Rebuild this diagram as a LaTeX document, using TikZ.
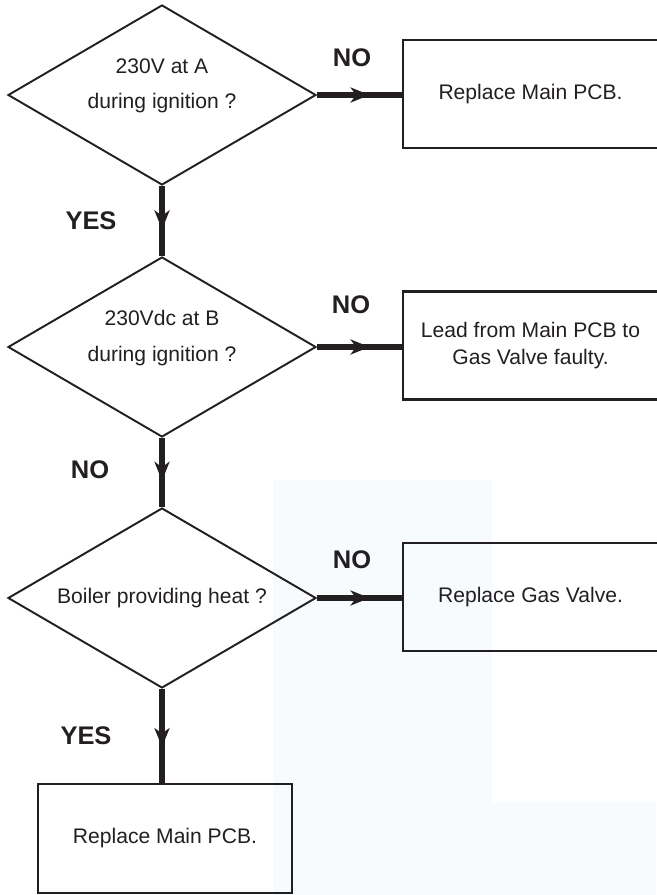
\documentclass[tikz,border=0pt]{standalone}
\usepackage{fontspec}
\setmainfont{Liberation Sans}
\usetikzlibrary{shapes.geometric,arrows.meta,decorations.markings}
\definecolor{ink}{HTML}{231F20}
\definecolor{faintblue}{HTML}{F7FBFE}
\tikzset{
  question/.style={diamond, draw=ink, line width=1.1pt, minimum width=6.16cm,
                   minimum height=3.6cm, aspect=1.71, inner sep=0pt},
  qtext/.style={align=center, text=ink, font=\fontsize{12}{20}\selectfont},
  action/.style={draw=ink, line width=1.4pt, minimum width=5.1cm, minimum height=2.16cm,
                 align=center, text=ink, font=\fontsize{12}{15.5}\selectfont},
  answer/.style={text=ink, font=\fontsize{14.5}{17}\selectfont\bfseries},
  flow/.style={draw=ink, line width=3pt, postaction={decorate},
               decoration={markings, mark=at position 0.62 with
                 {\arrow[ink]{Stealth[length=3.8mm, width=3mm, inset=1.1mm]}}}},
}

\begin{document}
\begin{tikzpicture}
    \useasboundingbox (0,0) rectangle (13.12,-17.9);
    % faint background
    \fill[faintblue] (5.46,-9.6) rectangle (9.84,-17.9);
    \fill[faintblue] (9.84,-16.04) rectangle (13.12,-17.9);

    \node[question] (d1) at (3.24,-1.9) {};
    \node[qtext] (t1) at ([yshift=0.18cm]d1.center) {230V at A\\during ignition ?};
    \node[question] (d2) at (3.24,-6.94) {};
    \node[qtext] (t2) at ([yshift=0.18cm]d2.center) {230Vdc at B\\during ignition ?};
    \node[question] (d3) at (3.24,-11.96) {};
    \node[qtext] (t3) at (d3.center) {Boiler providing heat ?};

    \node[action] (b1) at (10.61,-1.88) {Replace Main PCB.};
    \node[action] (b2) at (10.61,-6.91) {Lead from Main PCB to\\Gas Valve faulty.};
    \node[action] (b3) at (10.61,-11.94) {Replace Gas Valve.};
    \node[action, minimum width=5.08cm, minimum height=2.18cm] (b4) at (3.3,-16.77) {Replace Main PCB.};

    \draw[flow] (d1.east) -- (d1.east -| b1.west);
    \draw[flow] (d2.east) -- (d2.east -| b2.west);
    \draw[flow] (d3.east) -- (d3.east -| b3.west);
    \draw[flow] (d1.south) -- (d2.north);
    \draw[flow] (d2.south) -- (d3.north);
    \draw[flow] (d3.south) -- (d3.south |- b4.north);

    \node[answer] (no1) at (7.04,-1.15) {NO};
    \node[answer] (no2) at (7.02,-6.1) {NO};
    \node[answer] (no3) at (7.04,-11.2) {NO};
    \node[answer] (yes1) at (1.82,-4.42) {YES};
    \node[answer] (no4) at (1.8,-9.4) {NO};
    \node[answer] (yes2) at (1.72,-14.72) {YES};
\end{tikzpicture}
\end{document}
